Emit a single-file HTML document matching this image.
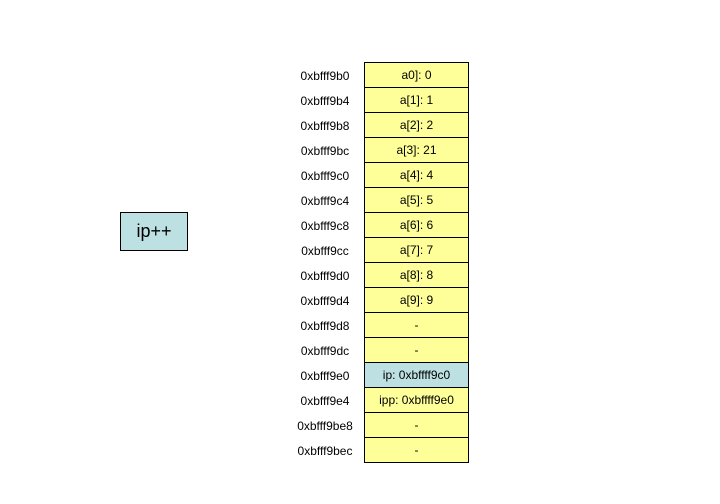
<!DOCTYPE html>
<html><head><style>
body{margin:0;width:720px;height:504px;background:#fff;position:relative;font-family:"Liberation Sans",Arial,sans-serif;overflow:hidden}
.c{position:absolute;left:364px;width:103px;height:24px;border:1px solid #000;background:#ffff99;font-size:12px;line-height:25px;text-align:center;color:#000}
.l{position:absolute;left:280px;width:90px;text-align:center;font-size:12px;line-height:25px;color:#000;margin-top:2px}
.b{background:#bde0e3}
</style></head><body>
<div style="position:absolute;left:120px;top:212px;width:66px;height:37px;border:1px solid #000;background:#bde0e3;font-size:18px;line-height:37px;text-align:center">ip++</div>
<div class="l" style="top:62px">0xbfff9b0</div><div class="c" style="top:62px">a0]: 0</div>
<div class="l" style="top:87px">0xbfff9b4</div><div class="c" style="top:87px">a[1]: 1</div>
<div class="l" style="top:112px">0xbfff9b8</div><div class="c" style="top:112px">a[2]: 2</div>
<div class="l" style="top:137px">0xbfff9bc</div><div class="c" style="top:137px">a[3]: 21</div>
<div class="l" style="top:162px">0xbfff9c0</div><div class="c" style="top:162px">a[4]: 4</div>
<div class="l" style="top:187px">0xbfff9c4</div><div class="c" style="top:187px">a[5]: 5</div>
<div class="l" style="top:212px">0xbfff9c8</div><div class="c" style="top:212px">a[6]: 6</div>
<div class="l" style="top:237px">0xbfff9cc</div><div class="c" style="top:237px">a[7]: 7</div>
<div class="l" style="top:262px">0xbfff9d0</div><div class="c" style="top:262px">a[8]: 8</div>
<div class="l" style="top:287px">0xbfff9d4</div><div class="c" style="top:287px">a[9]: 9</div>
<div class="l" style="top:312px">0xbfff9d8</div><div class="c" style="top:312px">-</div>
<div class="l" style="top:337px">0xbfff9dc</div><div class="c" style="top:337px">-</div>
<div class="l" style="top:362px">0xbfff9e0</div><div class="c b" style="top:362px">ip: 0xbffff9c0</div>
<div class="l" style="top:387px">0xbfff9e4</div><div class="c" style="top:387px">ipp: 0xbffff9e0</div>
<div class="l" style="top:412px">0xbfff9be8</div><div class="c" style="top:412px">-</div>
<div class="l" style="top:437px">0xbfff9bec</div><div class="c" style="top:437px">-</div>
</body></html>
